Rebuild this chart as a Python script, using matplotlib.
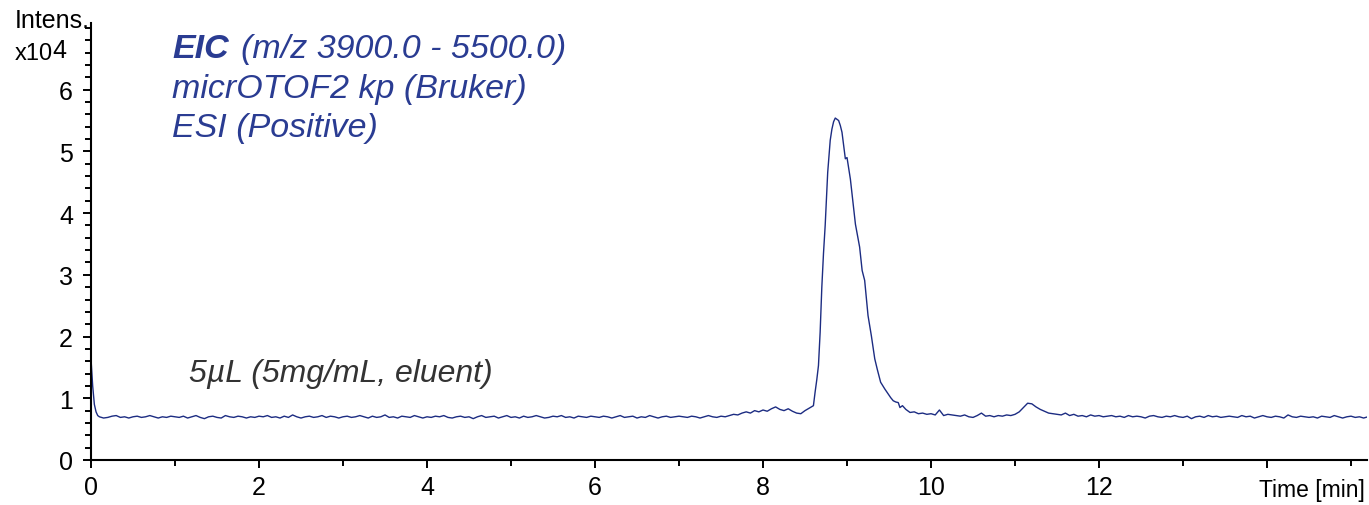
import numpy as np
import matplotlib
matplotlib.use("Agg")
import matplotlib.pyplot as plt
from matplotlib.ticker import MultipleLocator, FixedLocator

plt.rcParams['font.family'] = ['Liberation Sans', 'DejaVu Sans']

# ---- data (intensity in units of 1e4) ----
t_start = [0.00, 0.02, 0.04, 0.06, 0.08]
v_start = [1.64, 1.20, 0.90, 0.78, 0.72]

# baseline 0.10 .. 8.55 min, step 0.05
v_pre = [
    0.70,0.68,0.69,0.71,0.72,0.69,0.70,0.68,0.70,0.71,0.69,0.70,0.72,0.70,0.68,0.70,0.69,0.71,0.70,
    0.69,0.71,0.68,0.70,0.72,0.69,0.67,0.70,0.71,0.69,0.68,0.72,0.70,0.69,0.71,0.70,0.68,0.70,0.69,0.71,
    0.70,0.72,0.69,0.70,0.68,0.71,0.69,0.73,0.70,0.68,0.70,0.71,0.69,0.70,0.72,0.69,0.71,0.70,0.68,0.70,
    0.71,0.69,0.70,0.72,0.70,0.68,0.71,0.69,0.70,0.73,0.69,0.70,0.68,0.71,0.70,0.69,0.72,0.70,0.68,0.70,
    0.69,0.71,0.70,0.72,0.69,0.68,0.70,0.71,0.69,0.70,0.67,0.70,0.72,0.69,0.70,0.71,0.68,0.70,0.72,0.69,
    0.70,0.68,0.71,0.69,0.70,0.72,0.70,0.68,0.69,0.71,0.70,0.72,0.69,0.70,0.68,0.71,0.70,0.69,0.71,0.70,
    0.69,0.71,0.70,0.68,0.70,0.72,0.69,0.70,0.71,0.68,0.70,0.69,0.72,0.70,0.68,0.70,0.71,0.69,0.70,0.71,
    0.70,0.69,0.71,0.70,0.68,0.70,0.72,0.70,0.69,0.71,0.70,0.72,0.74,0.73,0.76,0.78,0.76,0.80,0.78,0.81,
    0.79,0.83,0.86,0.82,0.80,0.83,0.79,0.76,0.75,0.80,0.84,
]
t_pre = np.round(0.10 + 0.05 * np.arange(len(v_pre)), 2)

# main peak
t_peak = [8.60, 8.62, 8.64, 8.66, 8.68, 8.70, 8.72, 8.74, 8.77, 8.80, 8.82, 8.84, 8.86, 8.88,
          8.90, 8.92, 8.94, 8.96, 8.98, 9.00, 9.02, 9.04, 9.07, 9.10, 9.13, 9.15, 9.18, 9.21,
          9.25, 9.29, 9.33, 9.36, 9.40, 9.45, 9.49, 9.52, 9.55, 9.58, 9.61, 9.63, 9.66, 9.70]
v_peak = [0.88, 1.10, 1.30, 1.53, 2.07, 2.80, 3.35, 3.80, 4.66, 5.18, 5.36, 5.48, 5.54, 5.52,
          5.50, 5.42, 5.31, 5.09, 4.88, 4.90, 4.72, 4.55, 4.18, 3.82, 3.60, 3.45, 3.07, 2.91,
          2.34, 2.01, 1.64, 1.47, 1.26, 1.15, 1.07, 1.01, 0.96, 0.94, 0.93, 0.85, 0.88, 0.82]

# tail 9.75 .. 15.20 min, step 0.05
v_post = [
    0.77,0.78,0.75,0.76,0.74,0.75,
    0.73,0.81,0.72,0.74,0.73,0.72,0.71,0.73,0.70,0.69,0.72,0.76,0.71,0.72,0.70,0.72,0.71,0.73,0.72,0.74,
    0.78,0.85,0.92,0.91,0.86,0.82,0.79,0.76,0.75,0.74,
    0.73,0.76,0.72,0.74,0.71,0.72,0.70,0.73,0.71,0.72,0.70,0.71,0.72,0.70,0.71,0.69,0.72,0.70,0.71,0.70,
    0.68,0.71,0.72,0.70,0.69,0.71,0.70,0.72,0.70,0.69,0.71,0.67,0.70,0.71,0.69,0.72,0.70,0.71,0.69,0.70,
    0.71,0.70,0.69,0.72,0.70,0.71,0.68,0.70,0.72,0.70,0.69,0.71,0.70,0.68,0.73,0.70,0.69,0.71,0.70,0.69,
    0.70,0.68,0.71,0.70,0.69,0.72,0.70,0.68,0.70,0.71,0.69,0.70,0.68,0.70,
]
t_post = np.round(9.75 + 0.05 * np.arange(len(v_post)), 2)

x_ticks = [0, 2, 4, 6, 8, 10, 12, 14]
x_labels = ['0', '2', '4', '6', '8', '10', '12', '']
y_ticks = [0, 1, 2, 3, 4, 5, 6]

t = np.concatenate([t_start, t_pre, t_peak, t_post])
v = np.concatenate([v_start, v_pre, v_peak, v_post])

# ---- figure ----
fig = plt.figure(figsize=(13.69, 5.06), dpi=100)
ax = fig.add_axes([91/1369, 1 - 461/506, (1367 - 91)/1369, (461 - 24)/506])
ax.plot(t, v, color='#1c2c82', lw=1.0)

ax.set_xlim(0, 15.19)
ax.set_ylim(0, 7.08)
for s in ['top', 'right']:
    ax.spines[s].set_visible(False)
for s in ['left', 'bottom']:
    ax.spines[s].set_linewidth(1.5)

ax.set_xticks(x_ticks)
ax.set_xticklabels(x_labels)
ax.xaxis.set_minor_locator(FixedLocator([1, 3, 5, 7, 9, 11, 13, 15]))
ax.set_yticks(y_ticks)
ax.yaxis.set_minor_locator(MultipleLocator(0.2))
ax.tick_params(which='major', length=6, width=1.4, labelsize=18)
ax.tick_params(which='minor', length=4.3, width=1.4)
ax.tick_params(axis='y', which='major', pad=7)
ax.tick_params(axis='x', which='major', pad=5)

ax.text(15.17, -0.47, 'Time [min]', ha='right', va='center', fontsize=16.5)
ax.text(-0.02, 7.13, 'Intens.', ha='right', va='center', fontsize=18)
ax.text(-0.45, 6.60, 'x10', ha='right', va='center', fontsize=17)
ax.text(-0.46, 6.65, '4', ha='left', va='center', fontsize=18)

blue = '#2a3c92'
ax.text(0.97, 6.66, 'EIC', fontsize=24.5, style='italic', weight='bold', color=blue, va='center')
ax.text(1.78, 6.66, '(m/z 3900.0 - 5500.0)', fontsize=24.5, style='italic', color=blue, va='center')
ax.text(0.97, 6.02, 'micrOTOF2 kp (Bruker)', fontsize=24.5, style='italic', color=blue, va='center')
ax.text(0.97, 5.39, 'ESI (Positive)', fontsize=24.5, style='italic', color=blue, va='center')

ax.text(1.17, 1.41, '5µL (5mg/mL, eluent)', fontsize=23, style='italic', color='#333333', va='center')

fig.savefig('out.png', dpi=100)
